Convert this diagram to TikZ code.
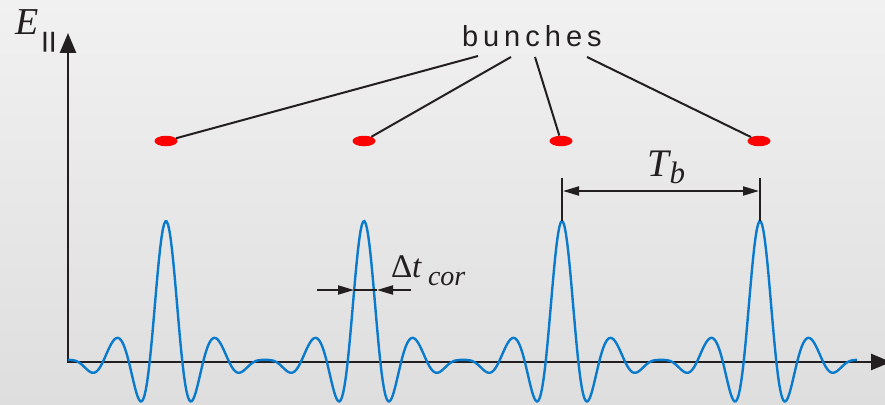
\documentclass[tikz,border=0pt]{standalone}
\usepackage{fontspec}
\setmainfont{Liberation Serif}
\newfontfamily\arialfont{Liberation Sans}
\usetikzlibrary{arrows.meta,shapes.geometric}
\definecolor{axisc}{HTML}{231F20}
\definecolor{wavec}{HTML}{0A7ACC}
\definecolor{bgtop}{HTML}{F1F1F1}
\definecolor{bgbot}{HTML}{DEDEDE}
\tikzset{
  declare function={wf(\t)=0.0797+0.1554*cos(\t)+0.1330*cos(2*\t)+0.1931*cos(3*\t)+0.2582*cos(4*\t)+0.1256*cos(5*\t)+0.0358*cos(6*\t)+0.0183*cos(7*\t)+0.00095*cos(8*\t);},
  axisline/.style={draw=axisc, line width=2.6pt, line join=miter},
  wave/.style={draw=wavec, line width=2.4pt},
  bunch/.style={ellipse, fill=red, minimum width=23pt, minimum height=10.5pt, inner sep=0pt},
  lead/.style={draw=axisc, line width=2pt},
  dimline/.style={draw=axisc, line width=2pt},
  dimtip/.style={-{Triangle[length=16pt,width=9pt]}},
  lbl/.style={inner sep=0pt, outer sep=0pt, text=axisc},
}
\begin{document}
\begin{tikzpicture}[x=1pt,y=-1pt]
\useasboundingbox (0,0) rectangle (885,404);
\shade[top color=bgtop, bottom color=bgbot] (0,0) rectangle (885,404);

% axes
\coordinate (ytip) at (68,33);
\coordinate (orig) at (68,362);
\coordinate (xtip) at (891,362);
\draw[axisline, {Triangle[length=20pt,width=16pt]}-{Triangle[length=20pt,width=16pt]}] (ytip) -- (orig) -- (xtip);

% axis label
\node[lbl, anchor=base west] (E) at (15,35) {\fontsize{38}{38}\selectfont\itshape E};
\node[lbl, anchor=north west] (par) at (42,32) {\arialfont\bfseries\fontsize{21}{21}\selectfont |\kern2pt|};

% waveform
\draw[wave] plot[domain=-178.2:1256.4, samples=600] ({166+\x/1.8181818}, {362-141*wf(\x)});

% bunches
\node[bunch] (b1) at (166,141) {};
\node[bunch] (b2) at (364,141) {};
\node[bunch] (b3) at (561,141) {};
\node[bunch] (b4) at (759,141) {};

\node[lbl, anchor=base west] (bunches) at (462,47) {\arialfont\fontsize{29}{29}\selectfont b\kern5pt u\kern5pt n\kern5pt c\kern5pt h\kern5pt e\kern5pt s};
\coordinate (l1) at (478,56);
\coordinate (l2) at (511,57);
\coordinate (l3) at (535,57);
\coordinate (l4) at (587,57);
\draw[lead] (b1) -- (l1);
\draw[lead] (b2) -- (l2);
\draw[lead] (b3) -- (l3);
\draw[lead] (b4) -- (l4);

% T_b dimension
\coordinate (t1top) at (562,178);
\coordinate (t1bot) at (562,221);
\coordinate (t2top) at (760,178);
\coordinate (t2bot) at (760,221);
\draw[dimline] (t1top) -- (t1bot);
\draw[dimline] (t2top) -- (t2bot);
\coordinate (tbL) at (563,191);
\coordinate (tbR) at (759,191);
\draw[dimline, {Triangle[length=16pt,width=9pt]}-{Triangle[length=16pt,width=9pt]}] (tbL) -- (tbR);
\node[lbl, anchor=base west] (Tb) at (647,176) {\fontsize{39}{39}\selectfont\itshape\makebox[22.5pt][l]{T}\raisebox{-7pt}{\fontsize{31}{31}\selectfont b}};

% Delta t_cor
\coordinate (dl0) at (317,290);
\coordinate (dl1) at (354,290);
\coordinate (dr0) at (411,290);
\coordinate (dr1) at (377,290);
\draw[dimline] (dl1) -- (dr1);
\draw[dimline, dimtip] (dl0) -- (dl1);
\draw[dimline, dimtip] (dr0) -- (dr1);
\node[lbl, anchor=base west] (dt) at (391,277) {\fontsize{33}{33}\selectfont\makebox[37pt][l]{Δ\itshape t}\raisebox{-8pt}{\fontsize{28}{28}\selectfont\itshape cor}};
\end{tikzpicture}
\end{document}
